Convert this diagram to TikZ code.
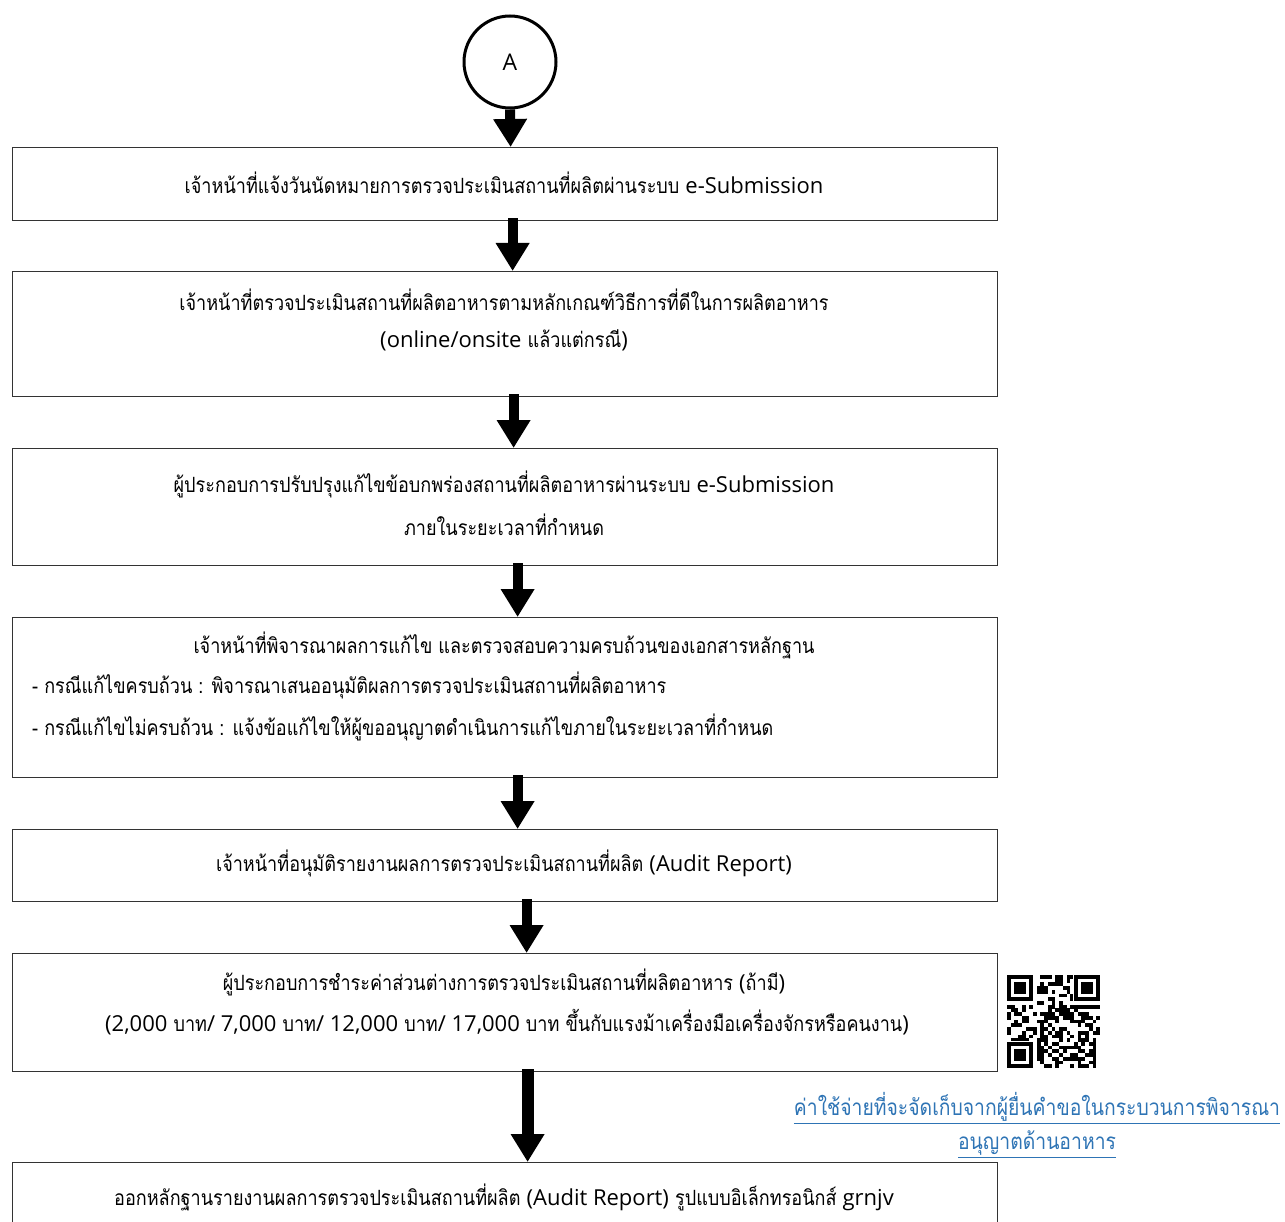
\documentclass[tikz,border=0pt]{standalone}
\usepackage{fontspec}
\usetikzlibrary{arrows.meta}
\newfontfamily\thai[Script=Thai, FakeStretch=0.86]{Loma}
\newfontfamily\lat{Open Sans}
\newcommand\en[1]{{\lat\fontsize{22}{26}\selectfont #1}}
\definecolor{linkblue}{HTML}{2E74B5}
\definecolor{frame}{HTML}{333333}
\tikzset{
  stepbox/.style={draw=frame, line width=1.2pt, minimum width=985pt, inner sep=0pt, anchor=north west},
  txt/.style={font=\thai\fontsize{21}{25}\selectfont, inner sep=0pt},
  flow/.style={line width=10pt, -{Triangle[width=32pt,length=28pt]}},
}
\begin{document}
\begin{tikzpicture}[x=1pt,y=-1pt]
\useasboundingbox (0,0) rectangle (1285,1222);
\clip (0,0) rectangle (1285,1222);
\fill[white] (0,0) rectangle (1285,1222);

% start connector
\node[circle, draw, line width=3pt, minimum size=92pt, inner sep=0pt, font=\lat\fontsize{23}{26}\selectfont] (A) at (510,62) {A};

% process boxes
\node[stepbox, minimum height=73pt]  (b1) at (12,147) {};
\node[stepbox, minimum height=125pt] (b2) at (12,271) {};
\node[stepbox, minimum height=117pt] (b3) at (12,448) {};
\node[stepbox, minimum height=160pt] (b4) at (12,617) {};
\node[stepbox, minimum height=72pt]  (b5) at (12,829) {};
\node[stepbox, minimum height=118pt] (b6) at (12,953) {};
\node[stepbox, minimum height=100pt] (b7) at (12,1162) {};

% box texts
\node[txt] (t1) at (504,183) {เจ้าหน้าที่แจ้งวันนัดหมายการตรวจประเมินสถานที่ผลิตผ่านระบบ \en{e-Submission}};
\node[txt] (t2a) at (504,300) {เจ้าหน้าที่ตรวจประเมินสถานที่ผลิตอาหารตามหลักเกณฑ์วิธีการที่ดีในการผลิตอาหาร};
\node[txt] (t2b) at (504,340) {\en{(online/onsite} แล้วแต่กรณี\en{)}};
\node[txt] (t3a) at (504,484) {ผู้ประกอบการปรับปรุงแก้ไขข้อบกพร่องสถานที่ผลิตอาหารผ่านระบบ \en{e-Submission}};
\node[txt] (t3b) at (504,525) {ภายในระยะเวลาที่กำหนด};
\node[txt] (t4a) at (504,645) {เจ้าหน้าที่พิจารณาผลการแก้ไข และตรวจสอบความครบถ้วนของเอกสารหลักฐาน};
\node[txt, anchor=west] (t4b) at (32,685) {- กรณีแก้ไขครบถ้วน : พิจารณาเสนออนุมัติผลการตรวจประเมินสถานที่ผลิตอาหาร};
\node[txt, anchor=west] (t4c) at (32,727) {- กรณีแก้ไขไม่ครบถ้วน : แจ้งข้อแก้ไขให้ผู้ขออนุญาตดำเนินการแก้ไขภายในระยะเวลาที่กำหนด};
\node[txt] (t5) at (504,863) {เจ้าหน้าที่อนุมัติรายงานผลการตรวจประเมินสถานที่ผลิต \en{(Audit Report)}};
\node[txt] (t6a) at (504,982) {ผู้ประกอบการชำระค่าส่วนต่างการตรวจประเมินสถานที่ผลิตอาหาร \en{(}ถ้ามี\en{)}};
\node[txt] (t6b) at (507,1022) {\en{(2,000} บาท\en{/ 7,000} บาท\en{/ 12,000} บาท\en{/ 17,000} บาท ขึ้นกับแรงม้าเครื่องมือเครื่องจักรหรือคนงาน\en{)}};
\node[txt] (t7) at (504,1197) {ออกหลักฐานรายงานผลการตรวจประเมินสถานที่ผลิต \en{(Audit Report)} รูปแบบอิเล็กทรอนิกส์ \en{grnjv}};

% connectors
\draw[flow] ([xshift=0pt]A.south)    -- ([xshift=5.5pt]b1.north);
\draw[flow] ([xshift=7.5pt,yshift=3pt]b1.south)  -- ([xshift=7.5pt]b2.north);
\draw[flow] ([xshift=8.5pt,yshift=3pt]b2.south)  -- ([xshift=8.5pt]b3.north);
\draw[flow] ([xshift=12.5pt,yshift=3pt]b3.south) -- ([xshift=12.5pt]b4.north);
\draw[flow] ([xshift=12.5pt,yshift=3pt]b4.south) -- ([xshift=12.5pt]b5.north);
\draw[flow] ([xshift=21.5pt,yshift=3pt]b5.south) -- ([xshift=21.5pt]b6.north);
\draw[flow, line width=12pt] ([xshift=22.5pt,yshift=3pt]b6.south) -- ([xshift=22.5pt]b7.north);

% QR code
\begin{scope}[shift={(1007,975)}]
  \pgfmathsetseed{12}
  \foreach \i in {0,...,24}{
    \foreach \j in {0,...,24}{
      \pgfmathsetmacro\r{rnd}
      \ifdim\r pt<0.48pt \fill (\i*3.72,\j*3.72) rectangle ++(3.8,3.8); \fi
    }
  }
  \foreach \cx/\cy in {0/0, 18/0, 0/18}{
    \fill[white] (\cx*3.72-0.5,\cy*3.72-0.5) rectangle ++(7*3.72+4.5,7*3.72+4.5);
    \fill (\cx*3.72,\cy*3.72) rectangle ++(7*3.72,7*3.72);
    \fill[white] (\cx*3.72+3.72,\cy*3.72+3.72) rectangle ++(5*3.72,5*3.72);
    \fill (\cx*3.72+2*3.72,\cy*3.72+2*3.72) rectangle ++(3*3.72,3*3.72);
  }
\end{scope}

% link
\node[txt, text=linkblue, align=center, font=\thai\fontsize{22.5}{34}\selectfont] (link) at (1037,1125)
  {\underline{ค่าใช้จ่ายที่จะจัดเก็บจากผู้ยื่นคำขอในกระบวนการพิจารณา}\\\underline{อนุญาตด้านอาหาร}};
\end{tikzpicture}
\end{document}
